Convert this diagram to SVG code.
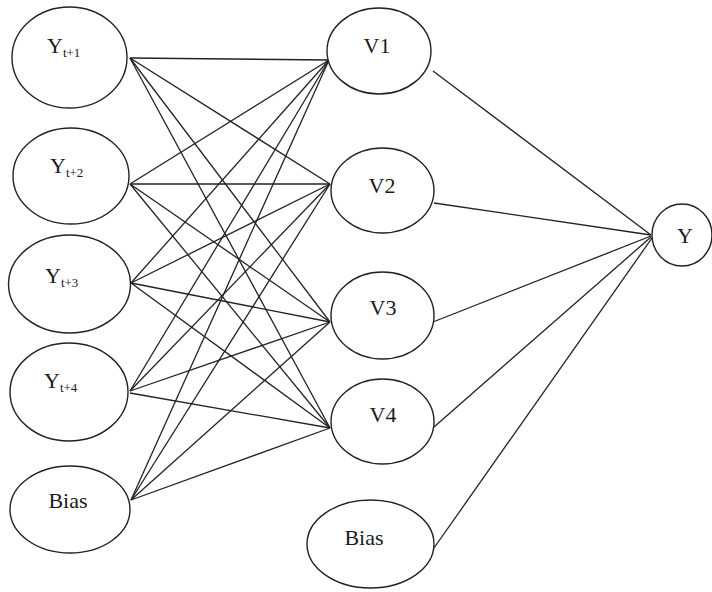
<svg xmlns="http://www.w3.org/2000/svg" width="712" height="592" viewBox="0 0 712 592">
<style>
.n{fill:#fff;stroke:#222;stroke-width:1.4}
.t{font-family:'Liberation Serif','Times New Roman','DejaVu Serif',serif;font-size:22px;fill:#1a1a1a}
.s{font-size:13px}
#connectors line{stroke:#222;stroke-width:1.3}
</style>
<rect width="712" height="592" fill="#fff"/>
<g id="connectors">
<line x1="130" y1="58" x2="329" y2="60"/>
<line x1="130" y1="58" x2="330" y2="184"/>
<line x1="130" y1="58" x2="330" y2="322"/>
<line x1="130" y1="58" x2="330" y2="428"/>
<line x1="130" y1="184" x2="329" y2="60"/>
<line x1="130" y1="184" x2="330" y2="184"/>
<line x1="130" y1="184" x2="330" y2="322"/>
<line x1="130" y1="184" x2="330" y2="428"/>
<line x1="131" y1="283" x2="329" y2="60"/>
<line x1="131" y1="283" x2="330" y2="184"/>
<line x1="131" y1="283" x2="330" y2="322"/>
<line x1="131" y1="283" x2="330" y2="428"/>
<line x1="130" y1="391" x2="329" y2="60"/>
<line x1="130" y1="391" x2="330" y2="184"/>
<line x1="130" y1="391" x2="330" y2="322"/>
<line x1="130" y1="393" x2="330" y2="428"/>
<line x1="131" y1="500" x2="329" y2="60"/>
<line x1="131" y1="500" x2="330" y2="184"/>
<line x1="131" y1="500" x2="330" y2="322"/>
<line x1="131" y1="500" x2="330" y2="428"/>
<line x1="433" y1="71" x2="651" y2="235"/>
<line x1="434" y1="203" x2="651" y2="235"/>
<line x1="433" y1="322" x2="651" y2="236"/>
<line x1="434" y1="427" x2="651" y2="237"/>
<line x1="434" y1="548" x2="652" y2="238"/>
</g>
<g id="yt1"><ellipse class="n" cx="69.5" cy="57.5" rx="57.5" ry="50.5"/><text class="t" x="47" y="53" font-family="Liberation Serif, serif">Y<tspan class="s" dy="4">t+1</tspan></text></g>
<g id="yt2"><ellipse class="n" cx="71" cy="176" rx="58" ry="48"/><text class="t" x="50" y="173" font-family="Liberation Serif, serif">Y<tspan class="s" dy="4">t+2</tspan></text></g>
<g id="yt3"><ellipse class="n" cx="69.5" cy="284" rx="61" ry="49"/><text class="t" x="45" y="283" font-family="Liberation Serif, serif">Y<tspan class="s" dy="4">t+3</tspan></text></g>
<g id="yt4"><ellipse class="n" cx="69" cy="392" rx="59" ry="49"/><text class="t" x="44" y="388" font-family="Liberation Serif, serif">Y<tspan class="s" dy="4">t+4</tspan></text></g>
<g id="bias1"><ellipse class="n" cx="70" cy="509.5" rx="60" ry="43.5"/><text class="t" x="68" y="508" text-anchor="middle" font-family="Liberation Serif, serif">Bias</text></g>
<g id="v1"><ellipse class="n" cx="379" cy="51" rx="52" ry="43"/><text class="t" x="377" y="53" text-anchor="middle" font-family="Liberation Serif, serif">V1</text></g>
<g id="v2"><ellipse class="n" cx="382.5" cy="190.5" rx="51.5" ry="42.5"/><text class="t" x="382" y="193" text-anchor="middle" font-family="Liberation Serif, serif">V2</text></g>
<g id="v3"><ellipse class="n" cx="382.5" cy="315.5" rx="51.5" ry="43.5"/><text class="t" x="383" y="315" text-anchor="middle" font-family="Liberation Serif, serif">V3</text></g>
<g id="v4"><ellipse class="n" cx="382.5" cy="421.5" rx="51.5" ry="42.5"/><text class="t" x="383" y="422" text-anchor="middle" font-family="Liberation Serif, serif">V4</text></g>
<g id="bias2"><ellipse class="n" cx="370.5" cy="544" rx="63.5" ry="44"/><text class="t" x="364" y="545" text-anchor="middle" font-family="Liberation Serif, serif">Bias</text></g>
<g id="y"><ellipse class="n" cx="682" cy="235" rx="30" ry="31"/><text class="t" x="685" y="243" text-anchor="middle" font-family="Liberation Serif, serif">Y</text></g>
</svg>
